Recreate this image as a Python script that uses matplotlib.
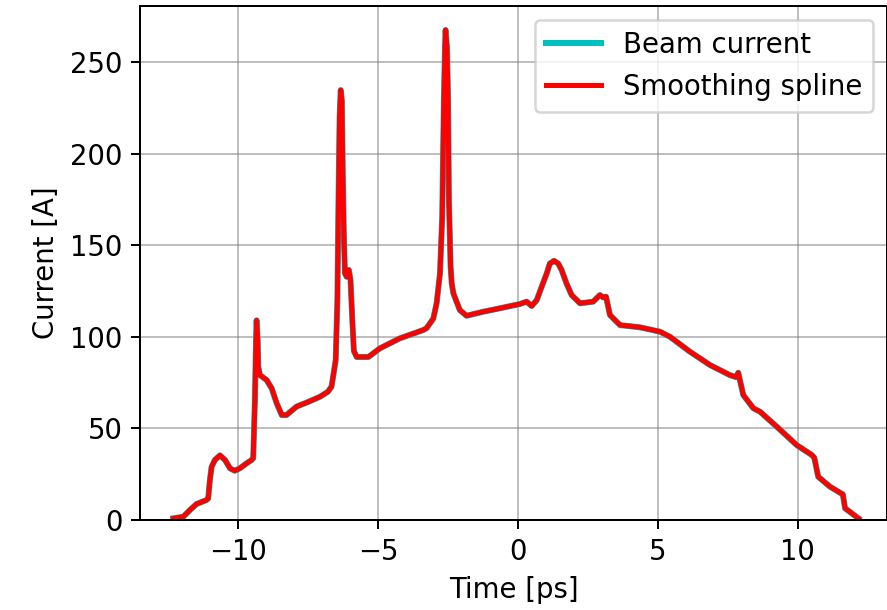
import numpy as np
import matplotlib
matplotlib.use("Agg")
import matplotlib.pyplot as plt

# Points (time in ps, current in A)
time_ps = [-12.33, -11.97, -11.73, -11.5, -11.14, -11.08, -11.02, -10.96, -10.84, -10.66,
           -10.48, -10.3, -10.13, -9.95, -9.71, -9.55, -9.47, -9.41, -9.37, -9.35,
           -9.31, -9.29, -9.23, -8.99, -8.81, -8.63, -8.45, -8.28, -7.92, -7.5,
           -7.08, -6.8, -6.67, -6.62, -6.52, -6.46, -6.42, -6.38, -6.34, -6.30,
           -6.27, -6.23, -6.19, -6.13, -6.05, -5.99, -5.93, -5.87, -5.77, -5.35,
           -4.94, -4.22, -3.7, -3.39, -3.27, -3.03, -2.91, -2.79, -2.71, -2.65,
           -2.61, -2.59, -2.54, -2.50, -2.47, -2.41, -2.37, -2.31, -2.08, -1.84,
           -1.24, -0.64, 0.07, 0.31, 0.49, 0.67, 0.85, 1.03, 1.14, 1.29,
           1.44, 1.56, 1.74, 1.92, 2.22, 2.69, 2.93, 3.05, 3.15, 3.29,
           3.65, 4.36, 5.08, 5.44, 6.15, 6.87, 7.58, 7.8, 7.88, 8.06,
           8.42, 8.66, 9.26, 9.97, 10.51, 10.6, 10.74, 11.16, 11.52, 11.62,
           11.7, 12.18]
current_a = [0.9, 1.8, 5.5, 8.7, 10.9, 11.8, 21.8, 29.0, 32.8, 35.3,
             32.8, 28.2, 26.9, 28.2, 30.9, 32.5, 33.7, 65.5, 98.0, 109.0,
             98.0, 83.7, 79.1, 76.4, 71.9, 63.7, 57.3, 57.3, 61.9, 64.5,
             67.3, 70.0, 72.8, 77.5, 87.3, 120.0, 174.7, 220.0, 234.7, 229.0,
             193.0, 156.6, 134.7, 132.8, 136.5, 131.0, 110.6, 92.3, 89.0, 89.0,
             93.7, 99.2, 102.0, 103.7, 104.7, 109.9, 118.3, 134.6, 165.6, 229.0,
             258.0, 267.5, 258.0, 229.0, 174.7, 138.3, 129.2, 123.7, 114.6, 111.5,
             113.7, 115.6, 117.9, 119.2, 116.8, 120.0, 127.4, 134.7, 140.0, 141.5,
             140.0, 136.5, 129.0, 122.8, 118.3, 119.2, 122.8, 121.5, 121.9, 111.9,
             106.4, 105.2, 102.8, 100.0, 91.9, 84.6, 79.1, 78.0, 80.4, 68.2,
             61.0, 59.1, 50.9, 40.9, 35.5, 34.0, 23.6, 18.2, 14.9, 14.0,
             6.4, 0.9]

# raw beam current follows the spline within a line width
beam_current = current_a

plt.rcParams["font.size"] = 11
fig = plt.figure(figsize=(887 / 180, 610 / 180), dpi=180)
ax = fig.add_axes([140 / 887, 90 / 610, 747 / 887, 514 / 610])

ax.plot(time_ps, beam_current, color="c", linewidth=2.4, label="Beam current")
ax.plot(time_ps, current_a, color="r", linewidth=2, label="Smoothing spline")

ax.set_xlim(-13.52, 13.2)
ax.set_ylim(0, 280.6)
ax.set_xticks([-10, -5, 0, 5, 10])
ax.set_yticks([0, 50, 100, 150, 200, 250])
ax.grid(color="gray", alpha=0.5, linewidth=0.8)
ax.set_xlabel("Time [ps]")
ax.set_ylabel("Current [A]")
ax.legend(loc="upper right")

fig.savefig("out.png", dpi=180)
